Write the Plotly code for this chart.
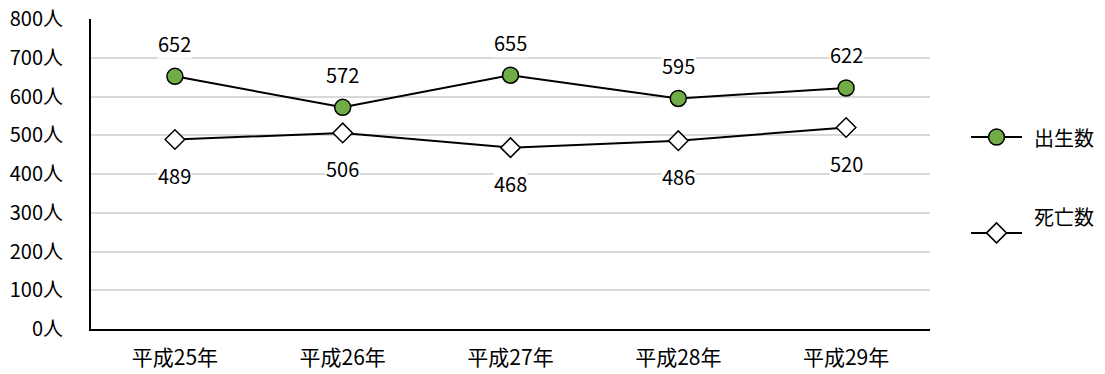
import plotly.graph_objects as go

years = ["平成25年", "平成26年", "平成27年", "平成28年", "平成29年"]
births = [652, 572, 655, 595, 622]
deaths = [489, 506, 468, 486, 520]
y_ticks = [0, 100, 200, 300, 400, 500, 600, 700, 800]
y_tick_labels = [f"{v}人" for v in y_ticks]
series_names = ["出生数", "死亡数"]

FONT = "Noto Sans CJK JP, Noto Sans, sans-serif"
FS = 20

fig = go.Figure()
fig.add_trace(go.Scatter(
    x=years, y=births, name=series_names[0], mode="lines+markers",
    line=dict(color="black", width=2),
    marker=dict(symbol="circle", size=16, color="#70AD47",
                line=dict(color="black", width=1.5)),
))
fig.add_trace(go.Scatter(
    x=years, y=deaths, name=series_names[1], mode="lines+markers",
    line=dict(color="black", width=2),
    marker=dict(symbol="diamond", size=15, color="white",
                line=dict(color="black", width=1.5)),
))

# value labels above births, below deaths
for x, v in zip(years, births):
    fig.add_annotation(x=x, y=v, text=str(v), showarrow=False, yshift=33,
                       bgcolor="white", borderpad=0,
                       font=dict(size=FS, color="black", family=FONT))
for x, v in zip(years, deaths):
    fig.add_annotation(x=x, y=v, text=str(v), showarrow=False, yshift=-36,
                       bgcolor="white", borderpad=0,
                       font=dict(size=FS, color="black", family=FONT))

# hand-drawn legend on the right (line + marker + label)
legend_rows = [(0.619, "circle"), (0.310, "diamond")]
shapes = []
for (ly, sym), name in zip(legend_rows, series_names):
    shapes.append(dict(type="line", xref="paper", yref="paper",
                       x0=1.0489, x1=1.1097, y0=ly, y1=ly,
                       line=dict(color="black", width=2)))
    if sym == "circle":
        shapes.append(dict(type="circle", xref="paper", yref="paper",
                           xsizemode="pixel", ysizemode="pixel",
                           xanchor=1.0793, yanchor=ly,
                           x0=-8, x1=8, y0=-8, y1=8,
                           fillcolor="#70AD47", line=dict(color="black", width=1.5)))
    else:
        shapes.append(dict(type="path", xref="paper", yref="paper",
                           xsizemode="pixel", ysizemode="pixel",
                           xanchor=1.0793, yanchor=ly,
                           path="M-10,0 L0,10 L10,0 L0,-10 Z",
                           fillcolor="white", line=dict(color="black", width=1.5)))
    fig.add_annotation(xref="paper", yref="paper", x=1.1216, y=ly, text=name,
                       xanchor="left", showarrow=False,
                       font=dict(size=FS, color="black", family=FONT))

fig.update_layout(
    width=1105, height=374,
    margin=dict(l=91, r=175, t=19, b=45),
    paper_bgcolor="white", plot_bgcolor="white",
    font=dict(family=FONT, size=FS, color="black"),
    showlegend=False,
    shapes=shapes,
)
fig.update_xaxes(
    range=[-0.5, 4.5], automargin=False,
    showline=True, linecolor="black", linewidth=2,
    showgrid=False, ticks="", tickfont=dict(size=21), ticklabelstandoff=9,
)
fig.update_yaxes(
    range=[0, 800], tickvals=y_ticks, ticktext=y_tick_labels, automargin=False,
    showline=True, linecolor="black", linewidth=2,
    showgrid=True, gridcolor="#d9d9d9", gridwidth=1.5,
    zeroline=False, ticks="", ticklabelstandoff=22,
    tickfont=dict(size=FS),
)

fig.write_html("out.html")
